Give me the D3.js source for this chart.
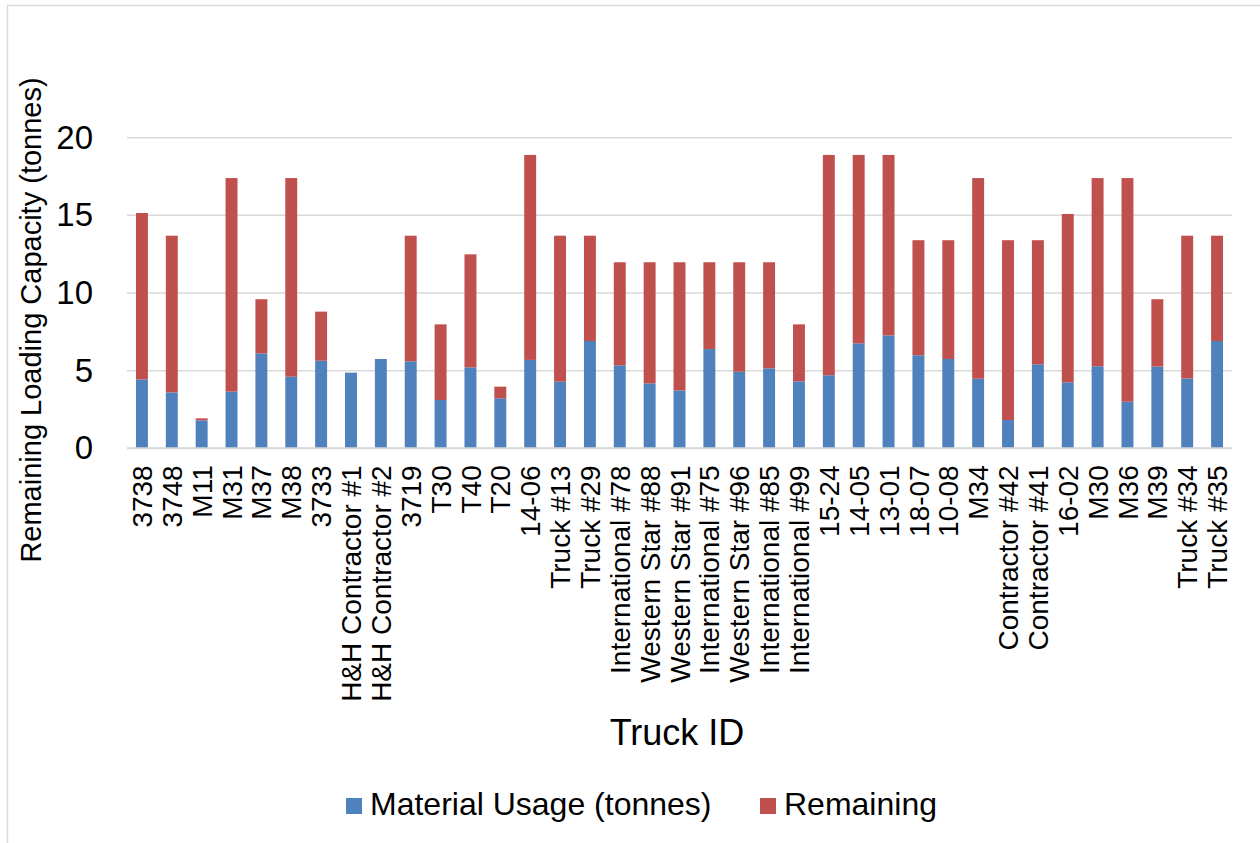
<!DOCTYPE html>
<html>
<head>
<meta charset="utf-8">
<script src="https://cdn.jsdelivr.net/npm/d3@7/dist/d3.min.js"></script>
<style>
  html, body { margin: 0; padding: 0; background: #ffffff; }
  svg { display: block; font-family: "Liberation Sans", Arial, sans-serif; }
</style>
</head>
<body>
<svg id="chart" width="1260" height="843"></svg>
<script>
// Truck IDs along the category axis
const trucks = [
  "3738", "3748", "M11", "M31", "M37", "M38", "3733",
  "H&H Contractor #1", "H&H Contractor #2", "3719", "T30", "T40", "T20",
  "14-06", "Truck #13", "Truck #29", "International #78", "Western Star #88",
  "Western Star #91", "International #75", "Western Star #96", "International #85",
  "International #99", "15-24", "14-05", "13-01", "18-07", "10-08", "M34",
  "Contractor #42", "Contractor #41", "16-02", "M30", "M36", "M39",
  "Truck #34", "Truck #35"
];

// Material used per truck (tonnes)
const materialUsage = [
  4.44, 3.60, 1.80, 3.65, 6.11, 4.61, 5.64,
  4.87, 5.75, 5.60, 3.11, 5.21, 3.22,
  5.69, 4.29, 6.91, 5.34, 4.18,
  3.73, 6.39, 4.93, 5.15,
  4.31, 4.70, 6.76, 7.27, 5.99, 5.75, 4.48,
  1.82, 5.41, 4.25, 5.28, 3.00, 5.26,
  4.50, 6.91
];

// Loading capacity still available per truck (tonnes)
const remaining = [
  10.71, 10.09, 0.13, 13.75, 3.49, 12.79, 3.16,
  0.00, 0.00, 8.09, 4.87, 7.28, 0.75,
  13.20, 9.40, 6.78, 6.64, 7.80,
  8.25, 5.59, 7.05, 6.83,
  3.67, 14.19, 12.13, 11.62, 7.41, 7.65, 12.92,
  11.58, 7.99, 10.84, 12.12, 14.40, 4.34,
  9.19, 6.78
];

const yTicks = [0, 5, 10, 15, 20];

const seriesNames = ["Material Usage (tonnes)", "Remaining"];
const seriesKeys = ["material", "remaining"];
const seriesColors = ["#4f81bd", "#c0504d"];

const rows = trucks.map((t, i) => ({ truck: t, material: materialUsage[i], remaining: remaining[i] }));

const svg = d3.select("#chart");

// Chart area frame
svg.append("rect")
  .attr("x", 7.5).attr("y", 5.5)
  .attr("width", 1400).attr("height", 1000)
  .attr("fill", "none").attr("stroke", "#d9d9d9").attr("stroke-width", 1.5);

const plot = { left: 127, right: 1232, top: 137.7, bottom: 448.3 };

const x = d3.scaleBand()
  .domain(trucks)
  .range([plot.left, plot.right])
  .paddingInner(0.6)
  .paddingOuter(0.3);

const y = d3.scaleLinear()
  .domain([0, 20])
  .range([plot.bottom, plot.top]);

// Horizontal gridlines
svg.append("g")
  .selectAll("line")
  .data(yTicks)
  .join("line")
  .attr("x1", plot.left).attr("x2", plot.right)
  .attr("y1", d => y(d)).attr("y2", d => y(d))
  .attr("stroke", "#d9d9d9").attr("stroke-width", 1.5);

// Stacked bars
const stack = d3.stack().keys(seriesKeys);
const layers = stack(rows);

svg.append("g")
  .selectAll("g")
  .data(layers)
  .join("g")
  .attr("fill", (d, i) => seriesColors[i])
  .selectAll("rect")
  .data(d => d)
  .join("rect")
  .attr("x", d => x(d.data.truck))
  .attr("width", x.bandwidth())
  .attr("y", d => y(d[1]))
  .attr("height", d => Math.max(0, y(d[0]) - y(d[1])));

// Value axis labels
const yAxis = d3.axisLeft(y).tickValues(yTicks).tickSize(0).tickPadding(0);
const yg = svg.append("g")
  .attr("transform", "translate(93,0)")
  .call(yAxis);
yg.select(".domain").remove();
yg.selectAll("text")
  .attr("font-size", 33)
  .attr("fill", "#000")
  .attr("font-family", "'Liberation Sans', Arial, sans-serif");

// Category axis line
svg.append("line")
  .attr("x1", plot.left).attr("x2", plot.right)
  .attr("y1", plot.bottom).attr("y2", plot.bottom)
  .attr("stroke", "#d9d9d9").attr("stroke-width", 2);

// Category labels, rotated
const xAxis = d3.axisBottom(x).tickSize(0).tickPadding(0);
const xg = svg.append("g")
  .attr("transform", `translate(0,${plot.bottom})`)
  .call(xAxis);
xg.select(".domain").remove();
xg.selectAll("text")
  .attr("font-size", 28)
  .attr("fill", "#000")
  .attr("font-family", "'Liberation Sans', Arial, sans-serif")
  .attr("text-anchor", "end")
  .attr("transform", "rotate(-90)")
  .attr("x", -17)
  .attr("y", 0)
  .attr("dy", "0.36em");

// Axis titles
svg.append("text")
  .attr("transform", "translate(41,320) rotate(-90)")
  .attr("text-anchor", "middle")
  .attr("font-size", 29)
  .attr("fill", "#000")
  .text("Remaining Loading Capacity (tonnes)");

svg.append("text")
  .attr("x", 677).attr("y", 745)
  .attr("text-anchor", "middle")
  .attr("font-size", 36)
  .attr("fill", "#000")
  .text("Truck ID");

// Legend
const legendItems = [
  { name: seriesNames[0], color: seriesColors[0], x: 346 },
  { name: seriesNames[1], color: seriesColors[1], x: 760 }
];
const lg = svg.append("g");
legendItems.forEach(item => {
  lg.append("rect")
    .attr("x", item.x).attr("y", 798)
    .attr("width", 16).attr("height", 16)
    .attr("fill", item.color);
  lg.append("text")
    .attr("x", item.x + 24).attr("y", 815)
    .attr("font-size", 32)
    .attr("fill", "#000")
    .text(item.name);
});
</script>
</body>
</html>
